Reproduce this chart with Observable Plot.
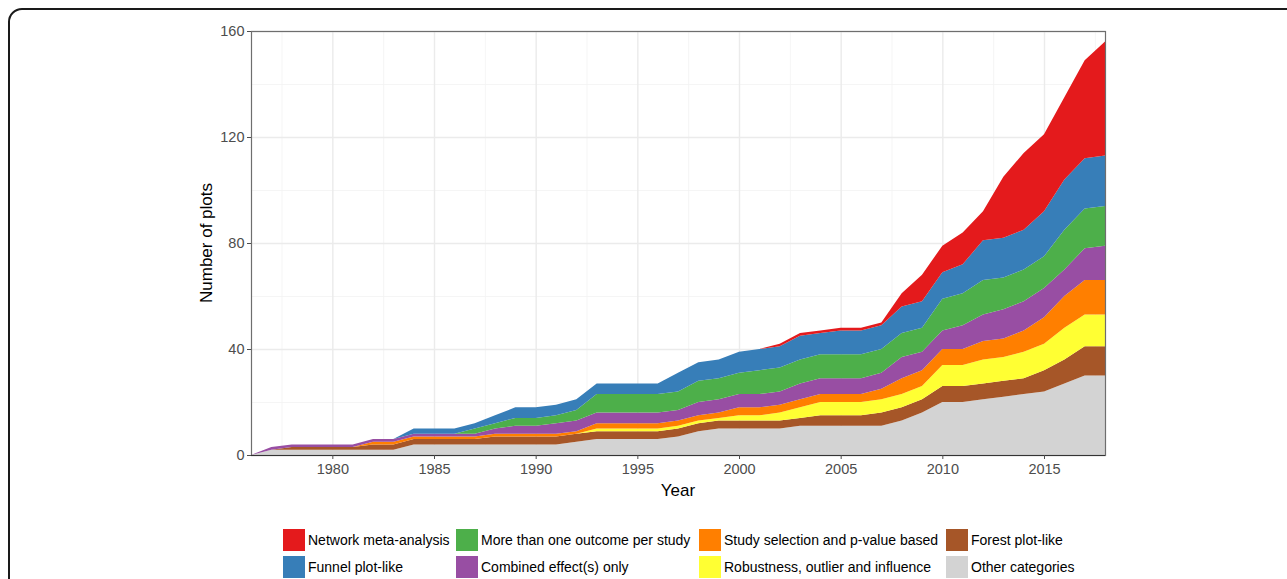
<!DOCTYPE html>
<html>
<head>
<meta charset="utf-8">
<script src="https://cdn.jsdelivr.net/npm/d3@7"></script>
<script src="https://cdn.jsdelivr.net/npm/@observablehq/plot@0.6"></script>
<style>
  html, body { margin: 0; padding: 0; background: #fff; width: 1287px; height: 579px; overflow: hidden; position: relative; font-family: "Liberation Sans", Arial, sans-serif; }
  #frame { position: absolute; left: 8px; top: 8px; width: 1320px; height: 620px; border: 2px solid #1a1a1a; border-radius: 14px; }
  #chart { position: absolute; left: 0; top: 0; }
  .title { position: absolute; font-size: 17px; color: #000; white-space: nowrap; }
  #legend { position: absolute; left: 0; top: 0; }
  .item { position: absolute; height: 24px; display: flex; align-items: center; font-size: 14px; color: #000; white-space: nowrap; }
  .sw { width: 24px; height: 24px; margin-right: 2px; box-sizing: border-box; border: 1px solid #fff; }
</style>
</head>
<body>
<div id="frame"></div>
<div id="chart"></div>
<div class="title" id="ytitle" style="left:207px; top:243px; transform: translate(-50%,-50%) rotate(-90deg);">Number of plots</div>
<div class="title" id="xtitle" style="left:678px; top:491px; transform: translate(-50%,-50%);">Year</div>
<div id="legend"></div>
<script>
const years = d3.range(1976, 2019);

// Series, one value per year 1976..2018 (stack order bottom → top)
const other      = [0,2,2,2,2,2,2,2,4,4,4,4,4,4,4,4,5,6,6,6,6,7,9,10,10,10,10,11,11,11,11,11,13,16,20,20,21,22,23,24,27,30,30];
const forest     = [0,0,1,1,1,1,2,2,2,2,2,2,3,3,3,3,3,3,3,3,3,3,3,3,3,3,3,3,4,4,4,5,5,5,6,6,6,6,6,8,9,11,11];
const robustness = [0,0,0,0,0,0,0,0,0,0,0,0,0,0,0,0,0,1,1,1,1,1,1,1,2,2,3,4,5,5,5,5,5,5,8,8,9,9,10,10,12,12,12];
const selection  = [0,0,0,0,0,0,1,1,1,1,1,1,1,1,1,1,1,2,2,2,2,2,2,2,3,3,3,3,3,3,3,4,6,6,6,6,7,7,8,10,12,13,13];
const combined   = [0,1,1,1,1,1,1,1,1,1,1,1,2,3,3,4,4,4,4,4,4,4,5,5,5,5,5,6,6,6,6,6,8,7,7,9,10,11,11,11,10,12,13];
const multiOut   = [0,0,0,0,0,0,0,0,0,0,0,2,2,3,3,3,4,7,7,7,7,7,8,8,8,9,9,9,9,9,9,9,9,9,12,12,13,12,12,12,15,15,15];
const funnel     = [0,0,0,0,0,0,0,0,2,2,2,2,3,4,4,4,4,4,4,4,4,7,7,7,8,8,8,9,8,9,9,9,10,10,10,11,15,15,15,17,19,19,19];
const network    = [0,0,0,0,0,0,0,0,0,0,0,0,0,0,0,0,0,0,0,0,0,0,0,0,0,0,1,1,1,1,1,1,5,10,10,12,11,23,29,29,31,37,43];

const categories = ["Other categories","Forest plot-like","Robustness, outlier and influence","Study selection and p-value based","Combined effect(s) only","More than one outcome per study","Funnel plot-like","Network meta-analysis"];
const colors     = ["#D3D3D3","#A65628","#FFFF33","#FF7F00","#984EA3","#4DAF4A","#377EB8","#E41A1C"];
const seriesList = [other, forest, robustness, selection, combined, multiOut, funnel, network];

const yTicks = [0, 40, 80, 120, 160];
const xTicks = [1980, 1985, 1990, 1995, 2000, 2005, 2010, 2015];
const xMinor = [1977.5, 1982.5, 1987.5, 1992.5, 1997.5, 2002.5, 2007.5, 2012.5, 2017.5];
const yMinor = [20, 60, 100, 140];

// legend layout: rows of 4 (order as in reference)
const legendOrder = ["Network meta-analysis","More than one outcome per study","Study selection and p-value based","Forest plot-like",
                     "Funnel plot-like","Combined effect(s) only","Robustness, outlier and influence","Other categories"];

const data = [];
categories.forEach((c, i) => {
  years.forEach((yr, j) => data.push({year: yr, value: seriesList[i][j], cat: c}));
});

const chart = Plot.plot({
  width: 1287,
  height: 510,
  marginLeft: 251,
  marginRight: 182,
  marginTop: 31,
  marginBottom: 55,
  style: {fontFamily: "'Liberation Sans', Arial, sans-serif", background: "transparent"},
  x: {domain: [1976, 2018]},
  y: {domain: [0, 160]},
  color: {domain: categories, range: colors},
  marks: [
    Plot.gridX(xMinor, {stroke: "#f2f2f2", strokeOpacity: 1, strokeWidth: 0.8}),
    Plot.gridY(yMinor, {stroke: "#f2f2f2", strokeOpacity: 1, strokeWidth: 0.8}),
    Plot.gridX(xTicks, {stroke: "#ebebeb", strokeOpacity: 1, strokeWidth: 1.4}),
    Plot.gridY(yTicks, {stroke: "#ebebeb", strokeOpacity: 1, strokeWidth: 1.4}),
    Plot.areaY(data, Plot.stackY({x: "year", y: "value", z: "cat", fill: "cat", order: categories})),
    Plot.frame({stroke: "#6e6e6e", strokeWidth: 1.2}),
    Plot.ruleY([0], {stroke: "#333333", strokeWidth: 1.2}),
    Plot.axisX({ticks: xTicks, tickFormat: d => String(d), tickSize: 4, tickPadding: 4, fontSize: 14.5, color: "#4d4d4d", label: null}),
    Plot.axisY({ticks: yTicks, tickSize: 4, tickPadding: 3, fontSize: 14.5, color: "#4d4d4d", label: null})
  ]
});
document.getElementById("chart").appendChild(chart);

// legend
const colLeft = [282, 455, 698, 945];
const rowTop = [528, 555];
const leg = document.getElementById("legend");
legendOrder.forEach((name, k) => {
  const col = k % 4, row = Math.floor(k / 4);
  const it = document.createElement("div");
  it.className = "item";
  it.style.left = colLeft[col] + "px";
  it.style.top = rowTop[row] + "px";
  const sw = document.createElement("div");
  sw.className = "sw";
  sw.style.background = colors[categories.indexOf(name)];
  const tx = document.createElement("span");
  tx.textContent = name;
  it.appendChild(sw); it.appendChild(tx);
  leg.appendChild(it);
});
</script>
</body>
</html>
